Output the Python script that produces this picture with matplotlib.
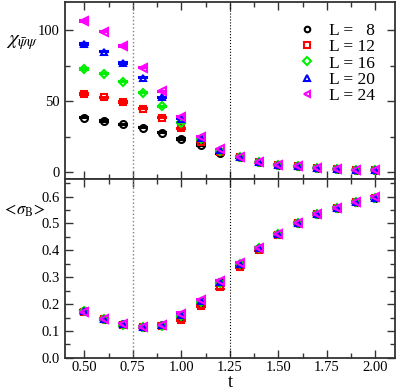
import matplotlib
matplotlib.use('Agg')
import matplotlib.pyplot as plt
from matplotlib.ticker import MultipleLocator, FormatStrFormatter
from matplotlib.lines import Line2D

plt.rcParams['font.family'] = ['Liberation Serif', 'DejaVu Serif']
plt.rcParams['mathtext.fontset'] = 'stix'

t = [0.5, 0.6, 0.7, 0.8, 0.9, 1.0, 1.1, 1.2, 1.3, 1.4, 1.5, 1.6, 1.7, 1.8, 1.9, 2.0]
sizes = [8, 12, 16, 20, 24]

# susceptibility chi_{psibar psi}
chi_8 = [38.4, 36.0, 33.7, 31.3, 27.8, 23.4, 19.0, 13.3, 10.5, 6.8, 5.1, 4.0, 2.8, 2.1, 1.6, 1.2]
chi_12 = [55.2, 52.8, 49.3, 44.7, 38.4, 30.9, 21.5, 14.5, 10.6, 6.8, 5.1, 4.0, 2.8, 2.1, 1.6, 1.2]
chi_16 = [72.7, 69.4, 63.8, 56.1, 46.3, 34.8, 23.0, 15.0, 10.7, 6.9, 5.1, 4.0, 2.8, 2.1, 1.6, 1.2]
chi_20 = [90.2, 84.9, 76.9, 66.6, 52.6, 37.6, 24.0, 15.5, 10.8, 6.9, 5.1, 4.0, 2.8, 2.1, 1.6, 1.2]
chi_24 = [106.6, 99.1, 88.8, 73.6, 57.0, 39.0, 24.8, 16.1, 10.9, 6.9, 5.2, 4.1, 2.9, 2.1, 1.6, 1.2]
chi_err = [0.5, 0.5, 0.5, 0.5, 0.5, 0.5, 0.5, 0.4, 0.3, 0.3, 0.2, 0.2, 0.2, 0.1, 0.1, 0.1]

# <sigma_B>
sig_8 = [0.174, 0.146, 0.125, 0.116, 0.121, 0.157, 0.207, 0.281, 0.349, 0.409, 0.461, 0.502, 0.535, 0.559, 0.580, 0.596]
sig_12 = [0.170, 0.144, 0.124, 0.115, 0.117, 0.142, 0.192, 0.262, 0.337, 0.402, 0.459, 0.501, 0.534, 0.558, 0.579, 0.596]
sig_16 = [0.173, 0.145, 0.124, 0.115, 0.120, 0.156, 0.207, 0.280, 0.348, 0.408, 0.461, 0.502, 0.535, 0.559, 0.580, 0.596]
sig_20 = [0.174, 0.146, 0.125, 0.116, 0.122, 0.160, 0.212, 0.284, 0.351, 0.410, 0.462, 0.503, 0.535, 0.559, 0.580, 0.596]
sig_24 = [0.171, 0.145, 0.125, 0.116, 0.124, 0.165, 0.215, 0.286, 0.352, 0.410, 0.462, 0.503, 0.535, 0.559, 0.580, 0.597]
sig_err = [0.004, 0.004, 0.004, 0.004, 0.004, 0.004, 0.004, 0.004,
           0.004, 0.004, 0.004, 0.004, 0.004, 0.004, 0.004, 0.004]

chi = [chi_8, chi_12, chi_16, chi_20, chi_24]
sig = [sig_8, sig_12, sig_16, sig_20, sig_24]
labels = ['L =   8', 'L = 12', 'L = 16', 'L = 20', 'L = 24']
colors = ['black', 'red', '#00ee00', 'blue', 'magenta']
markers = ['o', 's', 'D', '^', '<']
msizes = [5, 4.5, 4, 5, 5.5]

fig = plt.figure(figsize=(3.98, 3.92), dpi=100)
ax1 = fig.add_axes([0.163, 0.543, 0.829, 0.452])
ax2 = fig.add_axes([0.163, 0.087, 0.829, 0.456], sharex=ax1)

for i in range(len(sizes)):
    ax1.errorbar(t, chi[i], yerr=chi_err, fmt=markers[i], color=colors[i], mfc='none',
                 mew=1.5, ms=msizes[i], capsize=3.5, elinewidth=1, capthick=1)
    ax2.errorbar(t, sig[i], yerr=sig_err, fmt=markers[i], color=colors[i], mfc='none',
                 mew=1.5, ms=msizes[i], capsize=3.5, elinewidth=1, capthick=1)

for ax in (ax1, ax2):
    ax.axvline(0.75, color='gray', ls=':', lw=1)
    ax.axvline(1.25, color='black', ls=':', lw=0.8)
    ax.xaxis.set_major_locator(MultipleLocator(0.25))
    ax.xaxis.set_minor_locator(MultipleLocator(0.125))
    ax.tick_params(which='both', direction='in', top=True, right=True, labelsize=10.5,
                   color='#333333')
    ax.tick_params(which='major', length=6, width=1)
    ax.tick_params(which='minor', length=3.5, width=1)
    for s in ax.spines.values():
        s.set_linewidth(1.3)
        s.set_color('#333333')

ax1.set_xlim(0.4, 2.1)
ax1.set_ylim(-5, 120)
ax1.yaxis.set_major_locator(MultipleLocator(50))
ax1.yaxis.set_minor_locator(MultipleLocator(25))
ax1.tick_params(labelbottom=False)

ax2.set_ylim(0, 0.665)
ax2.yaxis.set_major_locator(MultipleLocator(0.1))
ax2.yaxis.set_minor_locator(MultipleLocator(0.05))
ax2.yaxis.set_major_formatter(FormatStrFormatter('%.1f'))
ax2.xaxis.set_major_formatter(FormatStrFormatter('%.2f'))
ax2.tick_params(axis='x', pad=2)

fig.text(0.578, 0.002, 't', fontsize=13, ha='center', va='bottom')
fig.text(0.015, 0.892, r'$\chi_{\bar{\psi}\psi}$', fontsize=15, va='center')
fig.text(0.004, 0.462, r'$<\!\sigma_{\rm B}\!>$', fontsize=12, va='center')

handles = [Line2D([], [], ls='none', marker=markers[i], color=colors[i], mfc='none',
                  mew=1.5, ms=4) for i in range(len(sizes))]
ax1.legend(handles, labels, loc='upper left', bbox_to_anchor=(0.68, 0.93), frameon=False,
           fontsize=12.5, labelspacing=0.0, handletextpad=0.8, handlelength=1.0, borderpad=0)

fig.savefig('out.png', dpi=100)
